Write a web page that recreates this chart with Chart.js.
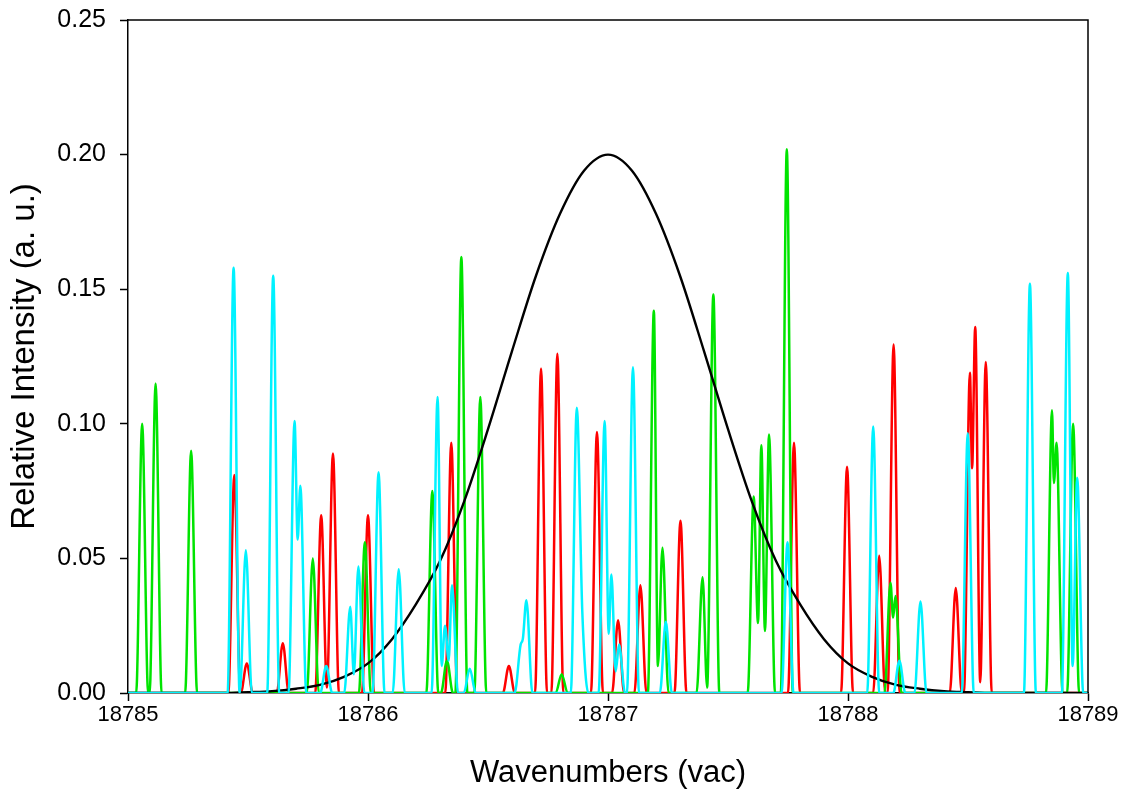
<!DOCTYPE html>
<html>
<head>
<meta charset="utf-8">
<script src="https://cdn.jsdelivr.net/npm/chart.js@4.4.1/dist/chart.umd.min.js"></script>
<style>
  html, body { margin: 0; padding: 0; background: #fff; }
  #wrap { width: 1126px; height: 792px; }
</style>
</head>
<body>
<div id="wrap"><canvas id="specChart" width="1126" height="792"></canvas></div>
<script>
// x range of the plot and y ticks
const xMin = 18785, xMax = 18789;
const yTicks = [0, 0.05, 0.10, 0.15, 0.20, 0.25];

// broad black envelope (read every 0.1 cm-1)
const envX = [18785.0, 18785.1, 18785.2, 18785.3, 18785.4, 18785.5, 18785.6, 18785.7, 18785.8, 18785.9,
              18786.0, 18786.1, 18786.2, 18786.3, 18786.4, 18786.5, 18786.6, 18786.7, 18786.8, 18786.9,
              18787.0, 18787.1, 18787.2, 18787.3, 18787.4, 18787.5, 18787.6, 18787.7, 18787.8, 18787.9,
              18788.0, 18788.1, 18788.2, 18788.3, 18788.4, 18788.5, 18788.6, 18788.7, 18788.8, 18788.9, 18789.0];
const envY = [0, 0, 0, 0, 0, 0.0003, 0.0007, 0.0016, 0.003, 0.006,
              0.011, 0.020, 0.033, 0.049, 0.071, 0.098, 0.127, 0.155, 0.178, 0.194,
              0.200, 0.194, 0.178, 0.155, 0.127, 0.098, 0.071, 0.049, 0.033, 0.020,
              0.011, 0.006, 0.003, 0.0016, 0.0007, 0.0003, 0, 0, 0, 0, 0];

// line positions / intensities (valleys between blended lines listed too)
const redLines = [
  [18785.443, 0.081], [18785.495, 0.011], [18785.645, 0.0185], [18785.805, 0.066], [18785.829, 0.002],
  [18785.854, 0.089], [18786.000, 0.066], [18786.347, 0.093], [18786.587, 0.010], [18786.721, 0.1205],
  [18786.789, 0.126], [18786.954, 0.097], [18787.042, 0.027], [18787.135, 0.040], [18787.302, 0.064],
  [18787.775, 0.093], [18787.996, 0.084], [18788.130, 0.051], [18788.190, 0.1295], [18788.449, 0.039],
  [18788.508, 0.119], [18788.517, 0.0835], [18788.530, 0.136], [18788.551, 0.004], [18788.574, 0.123]
];
const greenLines = [
  [18785.059, 0.100], [18785.115, 0.115], [18785.263, 0.090], [18785.770, 0.050], [18785.987, 0.056],
  [18786.268, 0.075], [18786.329, 0.012], [18786.389, 0.162], [18786.468, 0.110], [18786.807, 0.007],
  [18787.191, 0.142], [18787.208, 0.010], [18787.227, 0.054], [18787.394, 0.043], [18787.413, 0.002],
  [18787.439, 0.148], [18787.607, 0.073], [18787.625, 0.026], [18787.639, 0.092], [18787.654, 0.023],
  [18787.671, 0.096], [18787.745, 0.202], [18788.177, 0.041], [18788.188, 0.028], [18788.198, 0.036],
  [18788.850, 0.105], [18788.858, 0.078], [18788.869, 0.093], [18788.938, 0.100]
];
const cyanLines = [
  [18785.440, 0.158], [18785.491, 0.053], [18785.605, 0.155], [18785.694, 0.101], [18785.707, 0.057],
  [18785.718, 0.077], [18785.826, 0.010], [18785.926, 0.032], [18785.941, 0.007], [18785.960, 0.047],
  [18786.044, 0.082], [18786.128, 0.046], [18786.290, 0.110], [18786.307, 0.010], [18786.321, 0.025],
  [18786.336, 0.012], [18786.350, 0.040], [18786.424, 0.009], [18786.636, 0.018], [18786.645, 0.020],
  [18786.660, 0.0345], [18786.870, 0.106], [18786.893, 0.030], [18786.986, 0.101], [18787.003, 0.022],
  [18787.014, 0.044], [18787.032, 0.008], [18787.046, 0.018], [18787.104, 0.121], [18787.241, 0.0265],
  [18787.748, 0.056], [18788.105, 0.099], [18788.214, 0.012], [18788.302, 0.034], [18788.499, 0.0965],
  [18788.758, 0.152], [18788.916, 0.156], [18788.936, 0.010], [18788.955, 0.080]
];

// each line drops to the baseline this far from its peak
const halfBase = 0.025;
function toTrace(lines) {
  const out = [{ x: xMin, y: 0 }];
  let last = null;
  lines.forEach(([x, y]) => {
    if (last === null || x - last > 2 * halfBase) {
      if (last !== null) out.push({ x: last + halfBase, y: 0 });
      out.push({ x: x - halfBase, y: 0 });
    }
    out.push({ x: x, y: y });
    last = x;
  });
  out.push({ x: last + halfBase, y: 0 });
  out.push({ x: xMax, y: 0 });
  return out;
}

const fontFam = "'Liberation Sans', Arial, sans-serif";

// box around the plot area
const frame = {
  id: 'frame',
  afterDraw(chart) {
    const a = chart.chartArea, c = chart.ctx;
    c.save();
    c.strokeStyle = '#000';
    c.lineWidth = 1.5;
    c.beginPath();
    c.moveTo(a.left, a.top);
    c.lineTo(a.right, a.top);
    c.lineTo(a.right, a.bottom);
    c.stroke();
    c.restore();
  }
};

const ctx = document.getElementById('specChart').getContext('2d');
new Chart(ctx, {
  type: 'line',
  data: {
    datasets: [
      { label: 'cyan', data: toTrace(cyanLines), borderColor: '#00f2ff', order: 0 },
      { label: 'env', data: envX.map((x, i) => ({ x: x, y: envY[i] })), borderColor: '#000000',
        borderWidth: 2.4, order: 1 },
      { label: 'green', data: toTrace(greenLines), borderColor: '#00e400', order: 2 },
      { label: 'red', data: toTrace(redLines), borderColor: '#ff0000', order: 3 }
    ]
  },
  options: {
    responsive: false,
    animation: false,
    devicePixelRatio: 1,
    layout: { padding: { top: 20, right: 38, left: 0, bottom: 0 } },
    elements: {
      point: { radius: 0 },
      line: { borderWidth: 2.5, cubicInterpolationMode: 'monotone', fill: false }
    },
    plugins: { legend: { display: false }, tooltip: { enabled: false } },
    scales: {
      x: {
        type: 'linear',
        min: xMin,
        max: xMax,
        afterFit(s) { s.height = 99; },
        border: { color: '#000', width: 1.5 },
        grid: { drawOnChartArea: false, drawTicks: true, tickLength: 8, color: '#000', tickWidth: 1.5 },
        ticks: {
          stepSize: 1,
          color: '#000',
          padding: 1,
          maxRotation: 0,
          font: { family: fontFam, size: 22 },
          callback: v => String(v)
        },
        title: {
          display: true,
          text: 'Wavenumbers (vac)',
          color: '#000',
          font: { family: fontFam, size: 31 },
          padding: { top: 0, bottom: 0 }
        }
      },
      y: {
        min: 0,
        max: 0.25,
        afterFit(s) { s.width = 128; s.paddingTop = 0; },
        afterBuildTicks(s) { s.ticks = yTicks.map(v => ({ value: v })); },
        border: { color: '#000', width: 1.5 },
        grid: { drawOnChartArea: false, drawTicks: true, tickLength: 8, color: '#000', tickWidth: 1.5 },
        ticks: {
          color: '#000',
          padding: 14,
          font: { family: fontFam, size: 25 },
          callback: v => v.toFixed(2)
        },
        title: {
          display: true,
          text: 'Relative Intensity (a. u.)',
          color: '#000',
          font: { family: fontFam, size: 33 },
          padding: { top: 5, bottom: 0 }
        }
      }
    }
  },
  plugins: [frame]
});
</script>
</body>
</html>
